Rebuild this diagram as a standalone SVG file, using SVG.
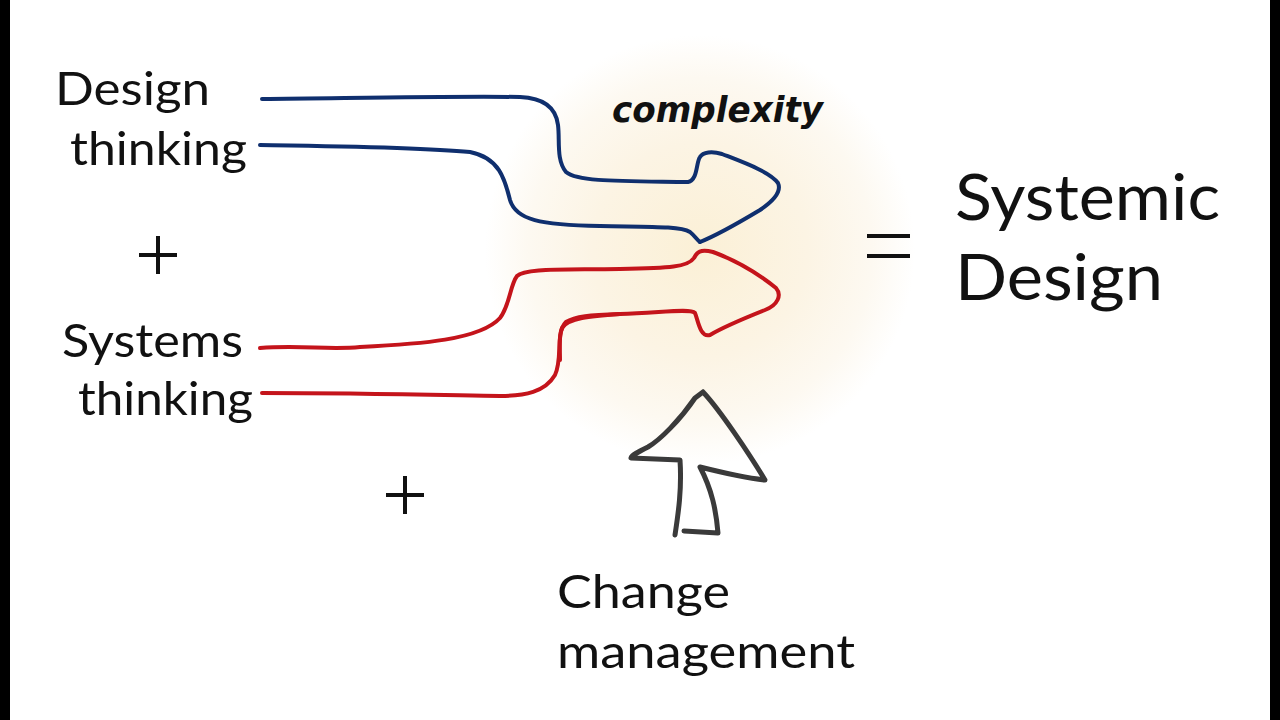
<svg xmlns="http://www.w3.org/2000/svg" width="1280" height="720" viewBox="0 0 1280 720">
<defs>
<radialGradient id="glow" cx="700" cy="250" r="215" gradientUnits="userSpaceOnUse">
<stop offset="0" stop-color="#fbf0d6"/>
<stop offset="0.5" stop-color="#fcf4e4"/>
<stop offset="0.8" stop-color="#fdf9f1"/>
<stop offset="1" stop-color="#ffffff"/>
</radialGradient>
<style>
.lbl{font-family:Lato,"Noto Sans",sans-serif;fill:#111;}
.blue{fill:none;stroke:#0f2f6e;stroke-width:4;stroke-linecap:round;stroke-linejoin:round;}
.red{fill:none;stroke:#c4141b;stroke-width:4;stroke-linecap:round;stroke-linejoin:round;}
.gray{fill:none;stroke:#3a3a3a;stroke-width:5;stroke-linecap:round;stroke-linejoin:round;}
</style>
</defs>
<rect width="1280" height="720" fill="#ffffff"/>
<rect x="0" y="0" width="10" height="720" fill="#000"/>
<rect x="1270" y="0" width="10" height="720" fill="#000"/>
<circle cx="700" cy="250" r="215" fill="url(#glow)"/>

<g id="design-thinking">
<text class="lbl" x="55" y="105" font-size="47" textLength="155" lengthAdjust="spacingAndGlyphs">Design</text>
<text class="lbl" x="70" y="165" font-size="47" textLength="177" lengthAdjust="spacingAndGlyphs">thinking</text>
</g>
<g id="plus1"><path d="M158,236 V274 M139,255 H177" stroke="#111" stroke-width="4" fill="none"/></g>
<g id="systems-thinking">
<text class="lbl" x="62" y="357" font-size="47" textLength="181" lengthAdjust="spacingAndGlyphs">Systems</text>
<text class="lbl" x="78" y="415" font-size="47" textLength="175" lengthAdjust="spacingAndGlyphs">thinking</text>
</g>
<g id="plus2"><path d="M405,476 V514 M386,495 H424" stroke="#111" stroke-width="4" fill="none"/></g>
<g id="equals"><path d="M867,236 H910 M867,256 H910" stroke="#111" stroke-width="4" fill="none"/></g>
<g id="systemic-design">
<text class="lbl" x="955" y="220" font-size="63" textLength="265" lengthAdjust="spacingAndGlyphs">Systemic</text>
<text class="lbl" x="955" y="300" font-size="63" textLength="208" lengthAdjust="spacingAndGlyphs">Design</text>
</g>
<g id="change-management">
<text class="lbl" x="557" y="608" font-size="47" textLength="173" lengthAdjust="spacingAndGlyphs">Change</text>
<text class="lbl" x="557" y="668" font-size="47" textLength="298" lengthAdjust="spacingAndGlyphs">management</text>
</g>
<g id="complexity"><text x="612" y="122" font-size="36" font-family="'DejaVu Sans',sans-serif" font-weight="bold" font-style="italic" fill="#111" textLength="211" lengthAdjust="spacingAndGlyphs">complexity</text></g>

<g id="connectors">
<path class="blue" d="M262,99 C360,98 450,96 520,97 C545,98 556,108 558,125 C560,140 556,160 566,172 C578,182 620,181 688,182 C698,180 696,162 700,157 C703,152 712,151 722,154 C745,163 770,172 778,183 C782,192 772,202 760,210 C740,222 715,236 700,242"/>
<path class="blue" d="M260,145 C330,146 420,147 470,152 C500,158 505,180 510,200 C516,220 540,225 600,226 C650,227 680,226 690,232 C695,236 697,240 700,242"/>
<path class="red" d="M260,348 C300,345 330,350 360,347 C420,344 480,340 500,318 C510,305 510,285 517,276 C525,268 560,270 620,269 C670,268 688,267 694,258 C697,252 700,249 713,252 C740,262 760,275 776,288 C782,295 778,305 765,310 C745,318 725,326 710,335 C700,338 698,320 695,313 C690,308 660,313 620,314 C590,315 575,316 566,322 C558,330 560,345 560,360"/>
<path class="red" d="M262,393 C360,393 440,395 500,396 C525,396 545,392 555,375 C562,360 557,340 562,328 C568,318 590,316 620,314"/>
<path class="gray" d="M703,392 L695,398 C680,420 660,440 648,447 C638,452 632,455 631,458 L680,460 C682,490 678,515 675,535 M684,531 L718,533 C716,510 712,490 700,467 C720,472 745,478 765,480 C750,455 720,410 703,392"/>
</g>
</svg>
